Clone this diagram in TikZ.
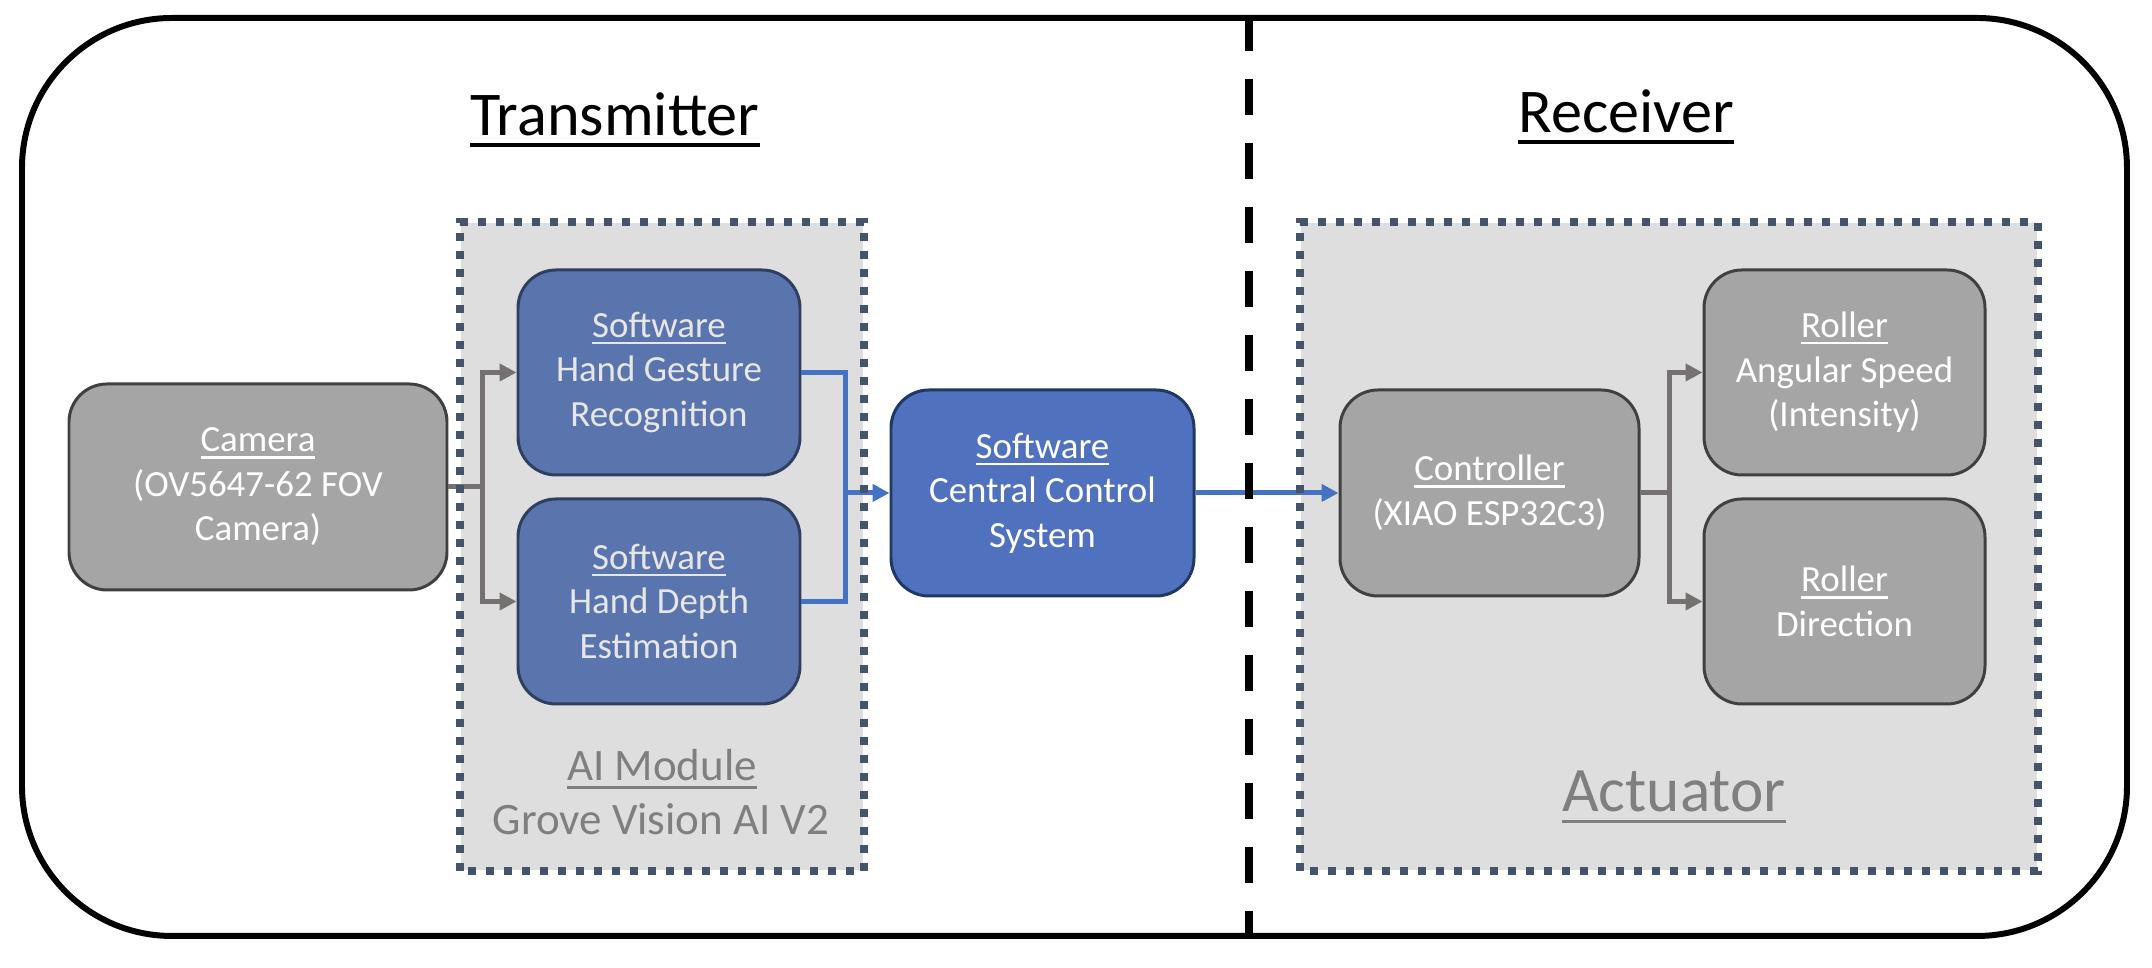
\documentclass[tikz,border=0pt]{standalone}
\usepackage{fontspec}
\setmainfont{Carlito}
\usetikzlibrary{arrows.meta}

\definecolor{boxgray}{HTML}{A5A5A5}
\definecolor{edgegray}{HTML}{404040}
\definecolor{aiblue}{HTML}{5A75AD}
\definecolor{aiedge}{HTML}{2F3F60}
\definecolor{cenblue}{HTML}{4F71BE}
\definecolor{cenedge}{HTML}{1F3864}
\definecolor{modfill}{HTML}{DEDEDE}
\definecolor{modedge}{HTML}{44546A}
\definecolor{linegray}{HTML}{767171}
\definecolor{lineblue}{HTML}{4472C4}
\definecolor{lblgray}{HTML}{7F7F7F}
\definecolor{aitext}{HTML}{E7E6E6}

\newcommand{\ulbl}[1]{\leavevmode\setbox0\hbox{#1}\rlap{\rule[-0.18em]{\wd0}{0.06em}}\box0}

\begin{document}
\begin{tikzpicture}[
    box/.style={line width=0.85pt, rounded corners=0.38cm, inner sep=0pt, align=center,
        minimum height=2.06cm, font=\fontsize{10.5}{12.66}\selectfont},
    graybox/.style={box, draw=edgegray, fill=boxgray, text=white},
    aibox/.style={box, draw=aiedge, fill=aiblue, text=aitext, minimum width=2.82cm, minimum height=2.05cm},
    cenbox/.style={box, draw=cenedge, fill=cenblue, text=white},
    module/.style={fill=modfill, inner sep=0pt, minimum width=#1, minimum height=6.47cm},
    modborder/.style={draw=modedge, line width=0.08cm, dash pattern=on 0.08cm off 0.1cm},
    title/.style={font=\fontsize{17.7}{21}\selectfont, anchor=base},
    modlabel/.style={text=lblgray, anchor=base, inner sep=0pt},
    gline/.style={draw=linegray, line width=0.05cm},
    garrow/.style={gline, -{Triangle[length=0.17cm,width=0.17cm]}},
    bline/.style={draw=lineblue, line width=0.05cm},
    barrow/.style={bline, -{Triangle[length=0.17cm,width=0.17cm]}}
    ]
    \useasboundingbox (0,0) rectangle (21.52,9.68);

    \node[draw, line width=1.7pt, rounded corners=1.5cm, inner sep=0pt,
        minimum width=21.05cm, minimum height=9.18cm] (frame) at (10.745,4.91) {};

    \node[title] (tx) at (6.15,8.32) {\ulbl{Transmitter}};
    \node[title] (rx) at (16.26,8.35) {\ulbl{Receiver}};

    \node[module=4.02cm] (aimod) at (6.62,4.215) {};
    \node[module=7.36cm] (actmod) at (16.69,4.215) {};

    \node[modlabel, font=\fontsize{12.8}{15.4}\selectfont] (ailbl) at (6.62,1.87) {\ulbl{AI Module}};
    \node[modlabel, font=\fontsize{12.8}{15.4}\selectfont] (grove) at (6.61,1.33) {Grove Vision AI V2};
    \node[modlabel, font=\fontsize{18}{21}\selectfont] (actlbl) at (16.74,1.56) {\ulbl{Actuator}};

    \node[graybox, minimum width=3.78cm] (cam) at (2.58,4.81) {\ulbl{Camera}\\(OV5647-62 FOV\\Camera)};
    \node[aibox] (gest) at (6.59,5.955) {\ulbl{Software}\\Hand Gesture\\Recognition};
    \node[aibox] (dep) at (6.59,3.665) {\ulbl{Software}\\Hand Depth\\Estimation};
    \node[cenbox, minimum width=3.03cm] (cent) at (10.425,4.75) {\ulbl{Software}\\Central Control\\System};
    \node[graybox, minimum width=2.99cm] (ctrl) at (14.895,4.75) {\ulbl{Controller}\\(XIAO ESP32C3)};
    \node[graybox, minimum width=2.81cm, minimum height=2.05cm] (spd) at (18.445,5.955) {\ulbl{Roller}\\Angular Speed\\(Intensity)};
    \node[graybox, minimum width=2.81cm, minimum height=2.05cm] (dir) at (18.445,3.665) {\ulbl{Roller}\\Direction};

    \coordinate (camsplit) at (4.82,4.81);
    \coordinate (aisplit) at (8.45,4.75);
    \coordinate (ctrlsplit) at (16.69,4.75);
    \coordinate (divx) at (12.49,0);

    \draw[gline] (cam.east) -- (camsplit);
    \draw[garrow] (camsplit) |- (gest.west);
    \draw[garrow] (camsplit) |- (dep.west);
    \draw[bline] (gest.east) -| (aisplit);
    \draw[bline] (dep.east) -| (aisplit);
    \draw[barrow] (aisplit) -- (cent.west);
    \draw[barrow] (cent.east) -- (ctrl.west);
    \draw[gline] (ctrl.east) -- (ctrlsplit);
    \draw[garrow] (ctrlsplit) |- (spd.west);
    \draw[garrow] (ctrlsplit) |- (dir.west);

    \draw[modborder] (aimod.south west) rectangle (aimod.north east);
    \draw[modborder] (actmod.south west) rectangle (actmod.north east);
    \draw[line width=0.08cm, dash pattern=on 0.36cm off 0.28cm] (divx |- frame.north) -- (divx |- frame.south);
\end{tikzpicture}
\end{document}
